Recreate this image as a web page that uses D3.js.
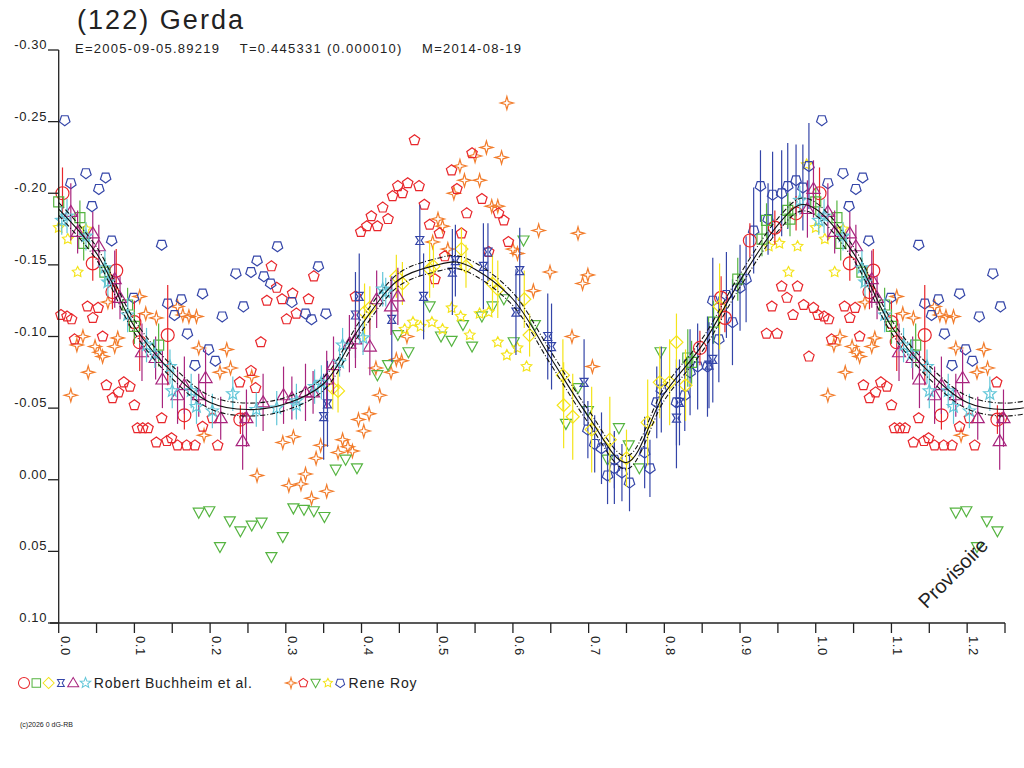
<!DOCTYPE html>
<html lang="en">
  <head>
    <meta charset="UTF-8" />
    <title>(122) Gerda</title>
    <style>
      body { margin: 0; background: #fff; }
      text { font-family: "Liberation Sans", Arial, sans-serif; fill: #222; }
    </style>
  </head>
  <body>
    <svg id="svg" width="1024" height="768"></svg>
    <script src="https://d3js.org/d3.v7.min.js"></script>
    <script>
      // ---- data: [phase, magnitude, error] ----
      const fitPhase = [0, 0.05, 0.1, 0.15, 0.2, 0.25, 0.3, 0.35, 0.4, 0.45, 0.5, 0.525, 0.55, 0.6, 0.65, 0.7, 0.75, 0.8, 0.85, 0.9, 0.95, 0.98];
      const fitMag = [-0.189, -0.158, -0.107, -0.075, -0.054, -0.049, -0.053, -0.067, -0.108, -0.140, -0.150, -0.152, -0.147, -0.126, -0.085, -0.044, -0.012, -0.060, -0.094, -0.139, -0.178, -0.192];
      const fitSigma = 0.0045;

      const bRedCircle = [[0.005,-0.200,0.018],[0.045,-0.151,0.012],[0.076,-0.146,0.015],[0.071,-0.131,0.012],[0.100,-0.110,0.015],[0.144,-0.101,0.035],[0.107,-0.096,0.02],[0.166,-0.045,0.01],[0.240,-0.042,0.01],[0.913,-0.167,0.012],[0.946,-0.176,0.012],[0.974,-0.186,0.012],[0.875,-0.127,0.015],[0.880,-0.113,0.01],[0.847,-0.092,0.012]];
      const bGreenSquare = [[0.0,-0.194,0.01],[0.028,-0.183,0.012],[0.033,-0.165,0.012],[0.061,-0.145,0.01],[0.091,-0.122,0.012],[0.100,-0.107,0.012],[0.132,-0.094,0.015],[0.831,-0.085,0.02],[0.836,-0.082,0.015],[0.865,-0.110,0.015],[0.897,-0.140,0.015],[0.929,-0.168,0.012],[0.935,-0.181,0.012],[0.966,-0.182,0.012],[0.963,-0.188,0.012]];
      const bYellowDiamond = [[0.446,-0.142,0.015],[0.454,-0.137,0.015],[0.404,-0.117,0.02],[0.411,-0.120,0.015],[0.490,-0.147,0.02],[0.495,-0.149,0.015],[0.532,-0.161,0.015],[0.538,-0.149,0.015],[0.573,-0.137,0.02],[0.580,-0.133,0.02],[0.615,-0.126,0.02],[0.622,-0.101,0.015],[0.362,-0.064,0.015],[0.369,-0.062,0.015],[0.666,-0.073,0.025],[0.667,-0.052,0.03],[0.679,-0.044,0.03],[0.704,-0.035,0.03],[0.728,-0.028,0.03],[0.750,-0.015,0.02],[0.778,-0.040,0.03],[0.794,-0.068,0.025],[0.807,-0.068,0.03],[0.828,-0.066,0.025],[0.816,-0.096,0.02],[0.873,-0.121,0.03]];
      const bBlueBowtie = [[0.477,-0.167,0.025],[0.482,-0.128,0.03],[0.524,-0.153,0.025],[0.520,-0.145,0.03],[0.561,-0.149,0.03],[0.567,-0.159,0.02],[0.609,-0.146,0.03],[0.604,-0.117,0.03],[0.646,-0.100,0.03],[0.651,-0.093,0.03],[0.392,-0.115,0.03],[0.397,-0.128,0.03],[0.440,-0.112,0.03],[0.355,-0.053,0.03],[0.350,-0.044,0.03],[0.694,-0.068,0.03],[0.816,-0.043,0.035],[0.820,-0.054,0.03],[0.864,-0.084,0.03],[0.859,-0.080,0.03]];
      const bPurpleTriangle = [[0.016,-0.187,0.02],[0.025,-0.173,0.015],[0.045,-0.172,0.015],[0.053,-0.163,0.015],[0.074,-0.140,0.02],[0.081,-0.127,0.015],[0.110,-0.089,0.02],[0.128,-0.085,0.015],[0.137,-0.070,0.02],[0.157,-0.059,0.02],[0.166,-0.066,0.02],[0.194,-0.071,0.02],[0.185,-0.059,0.015],[0.214,-0.043,0.015],[0.243,-0.027,0.02],[0.248,-0.043,0.02],[0.270,-0.054,0.02],[0.297,-0.059,0.02],[0.308,-0.057,0.015],[0.326,-0.061,0.02],[0.336,-0.061,0.015],[0.354,-0.070,0.02],[0.363,-0.080,0.02],[0.384,-0.095,0.02],[0.392,-0.098,0.02],[0.411,-0.093,0.02],[0.420,-0.126,0.02],[0.439,-0.121,0.02],[0.448,-0.128,0.02],[0.989,-0.189,0.02],[0.997,-0.203,0.02]];
      const bCyanStar = [[0.004,-0.181,0.01],[0.011,-0.184,0.012],[0.036,-0.170,0.01],[0.061,-0.148,0.012],[0.065,-0.138,0.01],[0.091,-0.115,0.012],[0.116,-0.094,0.012],[0.127,-0.088,0.01],[0.147,-0.079,0.012],[0.150,-0.062,0.012],[0.175,-0.062,0.012],[0.182,-0.051,0.012],[0.203,-0.048,0.012],[0.230,-0.060,0.012],[0.261,-0.049,0.012],[0.288,-0.050,0.012],[0.314,-0.055,0.012],[0.314,-0.052,0.01],[0.338,-0.065,0.012],[0.347,-0.068,0.012],[0.371,-0.082,0.01],[0.375,-0.094,0.012],[0.402,-0.099,0.012],[0.428,-0.133,0.012],[0.432,-0.131,0.01],[0.979,-0.195,0.01]];

      const rOrangeStar = [[0.016,-0.059],[0.039,-0.075],[0.024,-0.094],[0.032,-0.100],[0.048,-0.093],[0.054,-0.089],[0.058,-0.086],[0.074,-0.093],[0.078,-0.099],[0.065,-0.124],[0.107,-0.128],[0.115,-0.116],[0.129,-0.113],[0.157,-0.121],[0.164,-0.115],[0.172,-0.114],[0.182,-0.114],[0.185,-0.092],[0.222,-0.091],[0.213,-0.075],[0.227,-0.078],[0.255,-0.072],[0.192,-0.031],[0.262,-0.003],[0.296,-0.026],[0.310,-0.030],[0.346,-0.024],[0.340,-0.015],[0.326,-0.004],[0.304,0.004],[0.320,0.003],[0.334,0.013],[0.354,0.008],[0.369,-0.019],[0.375,-0.028],[0.382,-0.023],[0.388,-0.020],[0.396,-0.042],[0.410,-0.046],[0.403,-0.034],[0.424,-0.059],[0.419,-0.078],[0.439,-0.075],[0.446,-0.084],[0.453,-0.083],[0.460,-0.100],[0.592,-0.263],[0.565,-0.232],[0.585,-0.225],[0.550,-0.226],[0.530,-0.219],[0.536,-0.209],[0.556,-0.209],[0.522,-0.200],[0.572,-0.191],[0.580,-0.191],[0.501,-0.182],[0.507,-0.177],[0.494,-0.166],[0.514,-0.161],[0.600,-0.161],[0.606,-0.158],[0.634,-0.174],[0.686,-0.172],[0.649,-0.145],[0.699,-0.143],[0.692,-0.137],[0.627,-0.132],[0.678,-0.100],[0.705,-0.079]];
      const rRedPentagon = [[0.003,-0.115],[0.011,-0.114],[0.017,-0.112],[0.021,-0.098],[0.038,-0.121],[0.052,-0.120],[0.045,-0.113],[0.058,-0.100],[0.063,-0.066],[0.079,-0.061],[0.071,-0.057],[0.086,-0.068],[0.094,-0.065],[0.100,-0.052],[0.104,-0.036],[0.111,-0.036],[0.118,-0.036],[0.136,-0.043],[0.129,-0.026],[0.143,-0.027],[0.149,-0.029],[0.157,-0.024],[0.169,-0.024],[0.180,-0.024],[0.190,-0.037],[0.210,-0.024],[0.203,-0.043],[0.246,-0.043],[0.239,-0.068],[0.254,-0.076],[0.260,-0.064],[0.267,-0.096],[0.275,-0.125],[0.288,-0.134],[0.281,-0.149],[0.295,-0.126],[0.301,-0.112],[0.309,-0.130],[0.314,-0.116],[0.330,-0.126],[0.337,-0.142],[0.392,-0.128],[0.399,-0.173],[0.407,-0.177],[0.413,-0.184],[0.421,-0.177],[0.428,-0.190],[0.435,-0.182],[0.441,-0.198],[0.448,-0.205],[0.454,-0.200],[0.461,-0.207],[0.476,-0.205],[0.483,-0.192],[0.490,-0.178],[0.503,-0.172],[0.470,-0.237],[0.510,-0.156],[0.497,-0.140],[0.519,-0.216],[0.526,-0.203],[0.532,-0.172],[0.539,-0.186],[0.546,-0.228],[0.559,-0.196],[0.568,-0.159],[0.581,-0.186],[0.588,-0.181],[0.594,-0.166],[0.935,-0.102],[0.949,-0.102],[0.942,-0.121],[0.955,-0.135],[0.976,-0.135],[0.962,-0.127],[0.970,-0.115],[0.984,-0.122],[0.991,-0.086],[0.997,-0.120]];
      const rGreenTriangle = [[0.185,0.023],[0.199,0.022],[0.213,0.047],[0.226,0.029],[0.240,0.036],[0.255,0.032],[0.268,0.030],[0.281,0.054],[0.296,0.040],[0.310,0.020],[0.324,0.021],[0.337,0.022],[0.351,0.026],[0.366,-0.007],[0.379,-0.014],[0.394,-0.008],[0.421,-0.073],[0.435,-0.080],[0.462,-0.089],[0.448,-0.101],[0.505,-0.100],[0.519,-0.097],[0.546,-0.093],[0.490,-0.121],[0.534,-0.108],[0.559,-0.114],[0.573,-0.121],[0.614,-0.167],[0.588,-0.126],[0.601,-0.096],[0.629,-0.108],[0.795,-0.089],[0.686,-0.064],[0.670,-0.039],[0.699,-0.048],[0.740,-0.036],[0.753,-0.024],[0.767,-0.008],[0.725,-0.014]];
      const rYellowStar = [[0.0,-0.176],[0.012,-0.168],[0.025,-0.145],[0.036,-0.175],[0.457,-0.105],[0.468,-0.110],[0.478,-0.107],[0.493,-0.110],[0.507,-0.105],[0.519,-0.120],[0.531,-0.114],[0.543,-0.101],[0.556,-0.116],[0.568,-0.117],[0.580,-0.096],[0.592,-0.087],[0.606,-0.092],[0.618,-0.079],[0.938,-0.163],[0.952,-0.165],[0.976,-0.163],[0.964,-0.145],[0.988,-0.220]];
      const rBluePentagon = [[0.008,-0.251],[0.016,-0.207],[0.036,-0.214],[0.053,-0.203],[0.062,-0.211],[0.044,-0.191],[0.070,-0.167],[0.136,-0.164],[0.099,-0.127],[0.144,-0.123],[0.162,-0.126],[0.153,-0.115],[0.170,-0.102],[0.190,-0.130],[0.198,-0.091],[0.207,-0.083],[0.180,-0.080],[0.216,-0.114],[0.234,-0.144],[0.244,-0.121],[0.254,-0.145],[0.262,-0.153],[0.271,-0.142],[0.280,-0.137],[0.289,-0.163],[0.308,-0.124],[0.326,-0.116],[0.334,-0.112],[0.343,-0.149],[0.353,-0.116],
        [0.725,-0.003,0.02],[0.734,-0.008,0.025],[0.744,-0.005,0.02],[0.754,0.002,0.02],[0.734,-0.014,0.02],[0.781,-0.008,0.02],[0.774,-0.019,0.025],[0.708,-0.025,0.02],[0.717,-0.022,0.025],[0.699,-0.035,0.02],[0.790,-0.054,0.025],[0.796,-0.063,0.03],[0.816,-0.054,0.03],[0.827,-0.059,0.025],[0.834,-0.075,0.03],[0.844,-0.079,0.03],[0.857,-0.079,0.035],[0.872,-0.098,0.03],[0.890,-0.110,0.03],[0.864,-0.125,0.03],[0.882,-0.129,0.03],[0.900,-0.134,0.03],[0.908,-0.140,0.03],[0.918,-0.174,0.03],[0.927,-0.205,0.025],[0.943,-0.199,0.03],[0.955,-0.200,0.03],[0.963,-0.205,0.03],[0.974,-0.209,0.025],[0.983,-0.204,0.03],[0.991,-0.219,0.03],[0.937,-0.182,0.025]];

      const yTicks = [-0.30, -0.25, -0.20, -0.15, -0.10, -0.05, 0.00, 0.05, 0.10];
      const xTicks = [0, 0.1, 0.2, 0.3, 0.4, 0.5, 0.6, 0.7, 0.8, 0.9, 1.0, 1.1, 1.2];

      const svg = d3.select("#svg");
      const x = d3.scaleLinear().domain([0, 1.25]).range([58.7, 1005]);
      const y = d3.scaleLinear().domain([-0.30, 0.10]).range([50, 623]);

      // marker shapes
      function poly(n, r, rot) {
        const p = d3.range(n).map((i) => {
          const a = rot + (i * 2 * Math.PI) / n;
          return [r * Math.sin(a), -r * Math.cos(a)];
        });
        return "M" + p.join("L") + "Z";
      }
      function star(n, r1, r2, rot) {
        const p = d3.range(2 * n).map((i) => {
          const r = i % 2 ? r2 : r1;
          const a = rot + (i * Math.PI) / n;
          return [r * Math.sin(a), -r * Math.cos(a)];
        });
        return "M" + p.join("L") + "Z";
      }
      const shapes = {
        circle: "M6.5,0A6.5,6.5 0 1,1 -6.5,0A6.5,6.5 0 1,1 6.5,0Z",
        square: "M-5,-5H5V5H-5Z",
        diamond: poly(4, 6.5, 0),
        bowtie: "M-4,-4H4L1.5,0L4,4H-4L-1.5,0Z",
        triangle: "M0,-6.5L6.5,4.5H-6.5Z",
        star5: star(5, 6.5, 2.8, 0),
        star4: star(4, 6.5, 2, 0),
        pentagon: poly(5, 5.5, 0),
        tridown: "M-5.5,-4.5H5.5L0,5.5Z",
        star6: star(5, 5.5, 2.8, 0),
        penta2: poly(5, 5.5, Math.PI),
      };

      const seriesBuchheim = [
        { data: bRedCircle, shape: "circle", color: "#e8262b" },
        { data: bGreenSquare, shape: "square", color: "#55b440" },
        { data: bYellowDiamond, shape: "diamond", color: "#f4e41a" },
        { data: bBlueBowtie, shape: "bowtie", color: "#3445a8" },
        { data: bPurpleTriangle, shape: "triangle", color: "#a8247e" },
        { data: bCyanStar, shape: "star5", color: "#62c6d8" },
      ];
      const seriesRoy = [
        { data: rOrangeStar, shape: "star4", color: "#f27c2b" },
        { data: rRedPentagon, shape: "pentagon", color: "#e8262b" },
        { data: rGreenTriangle, shape: "tridown", color: "#55b440" },
        { data: rYellowStar, shape: "star6", color: "#f4e41a" },
        { data: rBluePentagon, shape: "penta2", color: "#3445a8" },
      ];

      // fit curve, wrapped over the extra quarter phase
      const fitPts = fitPhase.map((p, i) => [p, fitMag[i]]);
      const fitFull = [...fitPts, ...fitPts.filter((d) => d[0] <= 0.3).map((d) => [d[0] + 1, d[1]])];
      fitFull.sort((a, b) => a[0] - b[0]);

      const plot = svg.append("g");
      // Roy series drawn first, Buchheim on top
      [...seriesRoy, ...seriesBuchheim].forEach((s) => {
        const pts = [...s.data, ...s.data.filter((d) => d[0] < 0.25).map((d) => [d[0] + 1, d[1], d[2]])];
        const g = plot.append("g").attr("stroke", s.color).attr("fill", "none").attr("stroke-width", 1.2);
        g.selectAll("line")
          .data(pts.filter((d) => d[2]))
          .join("line")
          .attr("x1", (d) => x(d[0]))
          .attr("x2", (d) => x(d[0]))
          .attr("y1", (d) => y(d[1] - d[2]))
          .attr("y2", (d) => y(d[1] + d[2]));
        g.selectAll("path")
          .data(pts)
          .join("path")
          .attr("transform", (d) => `translate(${x(d[0])},${y(d[1])})`)
          .attr("d", shapes[s.shape]);
      });

      const line = d3.line().x((d) => x(d[0])).y((d) => y(d[1])).curve(d3.curveCatmullRom);
      const fitG = plot.append("g").attr("fill", "none").attr("stroke", "#111");
      fitG.append("path").attr("d", line(fitFull)).attr("stroke-width", 1.1);
      [-fitSigma, fitSigma].forEach((o) => {
        fitG.append("path")
          .attr("d", line(fitFull.map((d) => [d[0], d[1] + o])))
          .attr("stroke-width", 1.1)
          .attr("stroke-dasharray", "5,2,1,2");
      });

      // axes
      const fmtY = (t) => d3.format(".2f")(t).replace("\u2212", "-");
      const axes = svg.append("g").attr("stroke", "#222").attr("stroke-width", 1.3);
      axes.append("line").attr("x1", 58.7).attr("x2", 58.7).attr("y1", 50).attr("y2", 623);
      axes.append("line").attr("x1", 50).attr("x2", 1005).attr("y1", 623).attr("y2", 623);
      yTicks.forEach((t) => {
        axes.append("line").attr("x1", 48).attr("x2", 58.7).attr("y1", y(t)).attr("y2", y(t));
        svg.append("text").attr("x", 47).attr("y", y(t) - 1).attr("text-anchor", "end")
          .attr("font-size", 13).attr("letter-spacing", 0.6).text(fmtY(t));
      });
      d3.range(0, 1.2501, 0.05).forEach((t) => {
        axes.append("line").attr("x1", x(t)).attr("x2", x(t)).attr("y1", 623).attr("y2", 633);
      });
      xTicks.forEach((t) => {
        svg.append("text").attr("transform", `translate(${x(t) + 2},636) rotate(90)`)
          .attr("font-size", 13).attr("letter-spacing", 0.6).text(d3.format(".1f")(t));
      });

      // titles
      svg.append("text").attr("x", 77).attr("y", 29).attr("font-size", 27)
        .attr("textLength", 166).text("(122) Gerda");
      svg.append("text").attr("x", 75).attr("y", 53).attr("font-size", 13)
        .attr("xml:space", "preserve").attr("textLength", 446)
        .text("E=2005-09-05.89219    T=0.445331 (0.000010)    M=2014-08-19");
      svg.append("text").attr("transform", "translate(958,578) rotate(-45)")
        .attr("text-anchor", "middle").attr("font-size", 20).text("Provisoire");

      // legend
      function legend(list, x0, label, w) {
        list.forEach((s, i) => {
          svg.append("path").attr("d", shapes[s.shape]).attr("fill", "none")
            .attr("stroke", s.color).attr("stroke-width", 1.2)
            .attr("transform", `translate(${x0 + i * 12.3},683) scale(0.85)`);
        });
        svg.append("text").attr("x", x0 + list.length * 12.3 - 4).attr("y", 688)
          .attr("font-size", 14).attr("textLength", w).text(label);
      }
      legend(seriesBuchheim, 24, "Robert Buchheim et al.", 158);
      legend(seriesRoy, 291, "Rene Roy", 68);
      svg.append("text").attr("x", 20).attr("y", 727).attr("font-size", 7).text("(c)2026 0 dG-RB");
    </script>
  </body>
</html>
